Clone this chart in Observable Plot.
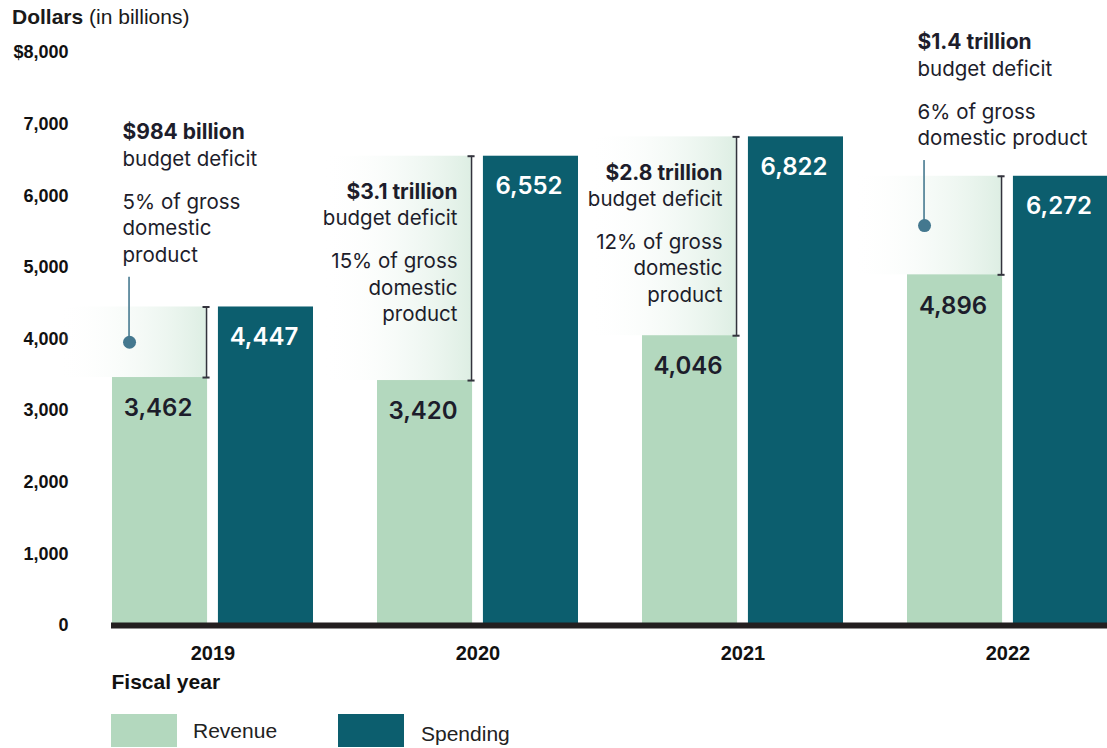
<!DOCTYPE html>
<html>
<head>
<meta charset="utf-8">
<script src="https://cdn.jsdelivr.net/npm/d3@7"></script>
<script src="https://cdn.jsdelivr.net/npm/@observablehq/plot@0.6"></script>
<style>
  html, body { margin: 0; padding: 0; background: #fff; }
  body { width: 1107px; height: 748px; overflow: hidden; font-family: "Liberation Sans", Arial, sans-serif; color: #111; }
  #title { height: 34px; line-height: 34px; padding-left: 12px; font-size: 21px; color: #1a1a1a; white-space: nowrap; }
  #title b { font-weight: 700; }
  #chart svg { display: block; overflow: visible; }
  #chart g[aria-label^="y-axis"] text { font-family: "Liberation Sans", Arial, sans-serif; font-weight: 700; font-size: 18px; fill: #111; }
  #chart g[aria-label^="x-axis"] text { font-family: "Liberation Sans", Arial, sans-serif; font-weight: 700; font-size: 20px; fill: #111; }
  #legend { position: relative; height: 48px; margin-top: 14px; }
  .sw { position: absolute; top: 0; width: 66px; height: 33px; }
  .lt { position: absolute; font-size: 21px; color: #222; }
</style>
</head>
<body>
<div id="title"><b>Dollars</b> (in billions)</div>
<div id="chart"></div>
<div id="legend">
  <div class="sw" style="left:111px;background:#b3d8be"></div>
  <div class="lt" style="left:193px;top:5px">Revenue</div>
  <div class="sw" style="left:338px;background:#0c5e6e"></div>
  <div class="lt" style="left:421px;top:8px">Spending</div>
</div>
<script>
// ---- data ----
const years = ["2019", "2020", "2021", "2022"];
const revenue = [3462, 3420, 4046, 4896];
const spending = [4447, 6552, 6822, 6272];
const deficitLabel = ["$984 billion", "$3.1 trillion", "$2.8 trillion", "$1.4 trillion"];
const deficitSub = ["budget deficit", "budget deficit", "budget deficit", "budget deficit"];
const gdpLabel = [
  ["5% of gross", "domestic", "product"],
  ["15% of gross", "domestic", "product"],
  ["12% of gross", "domestic", "product"],
  ["6% of gross", "domestic product"]
];
const placement = ["above", "inside", "inside", "above"];
const yTicks = [0, 1000, 2000, 3000, 4000, 5000, 6000, 7000, 8000];

// ---- layout constants (styles) ----
const W = 1107, H = 666;
const MT = 18, MB = 75;
const xRange = [111, 1110];
const padIn = 0.24;
const BW = (xRange[1] - xRange[0]) / (years.length - padIn) * (1 - padIn);
const barW = 96;
const C_REV = "#b3d8be", C_SPEND = "#0c5e6e", C_TXT = "#1d1d2b", C_DOT = "#44788f";
const LH = 26.5;
const annFont = "Inter, 'Noto Sans', sans-serif";
const annSize = 20.5;

const table = years.map((year, i) => ({
  year, revenue: revenue[i], spending: spending[i],
  mid: (revenue[i] + spending[i]) / 2, placement: placement[i]
}));

// pixel <-> value helper mirroring the plot's y scale
const yScale = Plot.scale({y: {domain: [0, 8000], range: [H - MB, MT]}});
const shift = (v, px) => yScale.invert(yScale.apply(v) + px);

// annotation text lines
const lines = [];
table.forEach((d, i) => {
  const gdp = gdpLabel[i];
  if (d.placement === "inside") {
    const off = 36;
    lines.push({year: d.year, side: "inside", bold: true, text: deficitLabel[i], y: shift(d.spending, off)});
    lines.push({year: d.year, side: "inside", bold: false, text: deficitSub[i], y: shift(d.spending, off + LH)});
    gdp.forEach((t, k) => lines.push({year: d.year, side: "inside", bold: false, text: t, y: shift(d.spending, off + LH + 43 + k * LH)}));
  } else {
    const last = -87;
    gdp.forEach((t, k) => lines.push({year: d.year, side: "above", bold: false, text: t, y: shift(d.mid, last - (gdp.length - 1 - k) * LH)}));
    const dl = last - (gdp.length - 1) * LH - 42.5;
    lines.push({year: d.year, side: "above", bold: false, text: deficitSub[i], y: shift(d.mid, dl)});
    lines.push({year: d.year, side: "above", bold: true, text: deficitLabel[i], y: shift(d.mid, dl - 27)});
  }
});

const above = table.filter(d => d.placement === "above");
const dotOff = 17.5; // dot center offset from band left
const txtAbove = 10.5;
const txtInside = 80.5;

const chart = Plot.plot({
  width: W, height: H,
  marginTop: MT, marginBottom: MB, marginLeft: 111, marginRight: 0,
  style: {background: "#fff", overflow: "visible"},
  x: {type: "band", domain: years, range: xRange, paddingInner: padIn, paddingOuter: 0,
      tickSize: 0, tickPadding: 20, label: null},
  y: {domain: [0, 8000], ticks: yTicks, tickSize: 0, tickPadding: 43, label: null,
      tickFormat: d => d === 8000 ? "$" + d3.format(",")(d) : d3.format(",")(d)},
  marks: [
    // deficit gradient band
    Plot.barY(table, {x: "year", y1: "revenue", y2: "spending", insetLeft: -55, insetRight: BW - barW, fill: "url(#deficitGrad)"}),
    // bars
    Plot.barY(table, {x: "year", y: "revenue", insetRight: BW - barW, fill: C_REV}),
    Plot.barY(table, {x: "year", y: "spending", insetLeft: BW - barW, fill: C_SPEND}),
    // brackets
    Plot.ruleX(table, {x: "year", y1: "revenue", y2: "spending", dx: barW - 1.5 - BW / 2, stroke: "#33333d", strokeWidth: 1.5}),
    Plot.tickY(table, {x: "year", y: "revenue", insetLeft: barW - 5.5, insetRight: BW - barW - 2.5, stroke: "#33333d", strokeWidth: 2}),
    Plot.tickY(table, {x: "year", y: "spending", insetLeft: barW - 5.5, insetRight: BW - barW - 2.5, stroke: "#33333d", strokeWidth: 2}),
    // leader lines and dots
    Plot.barY(above, {x: "year", y1: "mid", y2: "mid", insetTop: -65, insetLeft: dotOff - 1.25, insetRight: BW - dotOff - 1.25, fill: C_DOT}),
    Plot.dot(above, {x: "year", y: "mid", dx: dotOff - BW / 2, r: 6.5, fill: C_DOT}),
    // value labels
    Plot.text(table, {x: "year", y: "revenue", text: d => d3.format(",")(d.revenue), dx: barW / 2 - BW / 2 - 2, dy: 31,
      fill: C_TXT, fontSize: 24, fontWeight: 600, fontFamily: annFont}),
    Plot.text(table, {x: "year", y: "spending", text: d => d3.format(",")(d.spending), dx: BW / 2 - barW / 2 - 2, dy: 30,
      fill: "#fff", fontSize: 24, fontWeight: 600, fontFamily: annFont}),
    // annotations
    Plot.text(lines.filter(d => d.side === "above" && d.bold), {x: "year", y: "y", text: "text", dx: txtAbove - BW / 2, textAnchor: "start",
      fill: C_TXT, fontSize: 21, fontWeight: 700, fontFamily: annFont}),
    Plot.text(lines.filter(d => d.side === "above" && !d.bold), {x: "year", y: "y", text: "text", dx: txtAbove - BW / 2, textAnchor: "start",
      fill: C_TXT, fontSize: annSize, fontWeight: 400, fontFamily: annFont}),
    Plot.text(lines.filter(d => d.side === "inside" && d.bold), {x: "year", y: "y", text: "text", dx: txtInside - BW / 2, textAnchor: "end",
      fill: C_TXT, fontSize: 21, fontWeight: 700, fontFamily: annFont}),
    Plot.text(lines.filter(d => d.side === "inside" && !d.bold), {x: "year", y: "y", text: "text", dx: txtInside - BW / 2, textAnchor: "end",
      fill: C_TXT, fontSize: annSize, fontWeight: 400, fontFamily: annFont}),
    // axis title
    Plot.text(["Fiscal year"], {frameAnchor: "bottom-left", dy: 63, textAnchor: "start", fontSize: 21, fontWeight: 700,
      fontFamily: "'Liberation Sans', Arial, sans-serif", fill: "#111"}),
    // zero baseline
    Plot.ruleY([0], {stroke: "#231f20", strokeWidth: 6})
  ]
});

d3.select(chart).insert("defs", ":first-child").html(
  '<linearGradient id="deficitGrad" x1="0" x2="1" y1="0" y2="0">' +
  '<stop offset="0" stop-color="#ffffff" stop-opacity="0"/><stop offset="1" stop-color="#ddeee3"/></linearGradient>'
);
document.getElementById("chart").appendChild(chart);
</script>
</body>
</html>
